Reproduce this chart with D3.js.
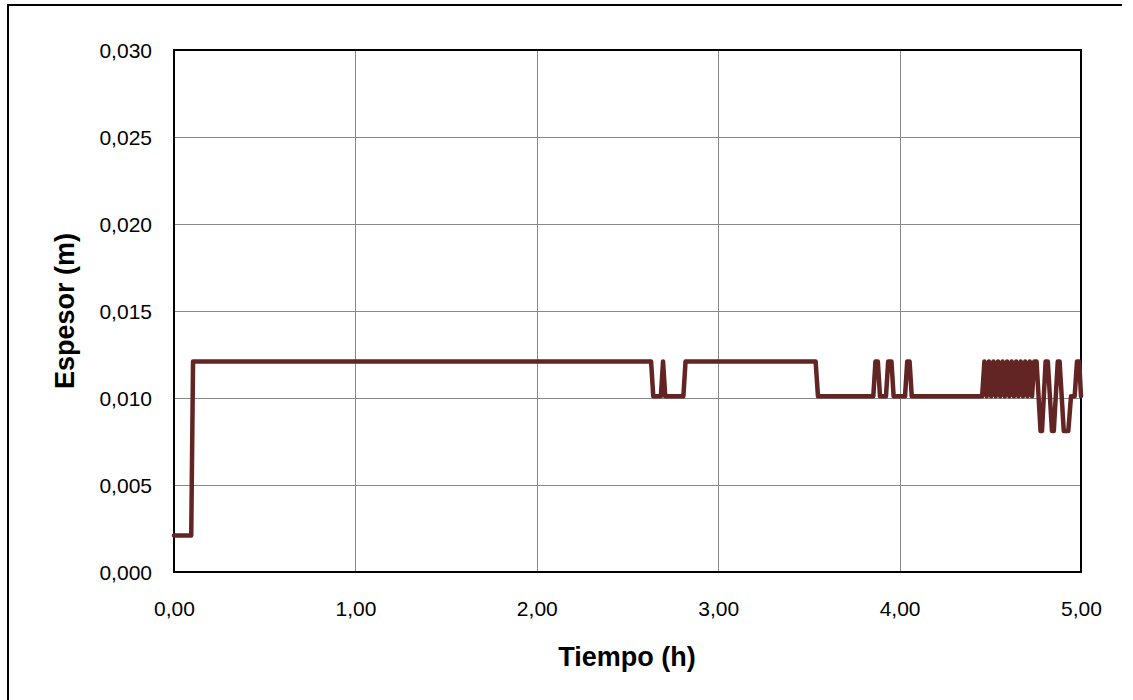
<!DOCTYPE html>
<html>
<head>
<meta charset="utf-8">
<script src="https://cdn.jsdelivr.net/npm/d3@7/dist/d3.min.js"></script>
<style>
  html, body { margin: 0; padding: 0; background: #fff; }
  svg { display: block; font-family: "Liberation Sans", Arial, sans-serif; }
</style>
</head>
<body>
<svg id="chart" width="1133" height="700"></svg>
<script>
// Data: time in hours, thickness in metres
const times = [
  0.000, 0.095, 0.105,
  2.630, 2.642, 2.684, 2.696, 2.708, 2.808, 2.820,
  3.537, 3.550,
  3.855, 3.867, 3.880, 3.892,
  3.925, 3.937, 3.955, 3.967,
  4.030, 4.042, 4.055, 4.067,
  4.455, 4.4675, 4.480, 4.4925, 4.505, 4.5175, 4.530, 4.5425, 4.555, 4.5675,
  4.580, 4.5925, 4.605, 4.6175, 4.630, 4.6425, 4.655, 4.6675, 4.680, 4.6925,
  4.705, 4.7175, 4.730, 4.7425, 4.755,
  4.777, 4.785, 4.805, 4.817, 4.840, 4.850, 4.872, 4.882, 4.905, 4.930,
  4.945, 4.965, 4.978, 4.990, 5.000
];
const espesor = [
  0.0021, 0.0021, 0.0121,
  0.0121, 0.0101, 0.0101, 0.0121, 0.0101, 0.0101, 0.0121,
  0.0121, 0.0101,
  0.0101, 0.0121, 0.0121, 0.0101,
  0.0101, 0.0121, 0.0121, 0.0101,
  0.0101, 0.0121, 0.0121, 0.0101,
  0.0101, 0.0121, 0.0101, 0.0121, 0.0101, 0.0121, 0.0101, 0.0121, 0.0101, 0.0121,
  0.0101, 0.0121, 0.0101, 0.0121, 0.0101, 0.0121, 0.0101, 0.0121, 0.0101, 0.0121,
  0.0101, 0.0121, 0.0101, 0.0121, 0.0121,
  0.0081, 0.0081, 0.0121, 0.0121, 0.0081, 0.0081, 0.0121, 0.0121, 0.0081, 0.0081,
  0.0101, 0.0101, 0.0121, 0.0121, 0.0101
];
const xTicks = [0, 1, 2, 3, 4, 5];
const yTicks = [0, 0.005, 0.010, 0.015, 0.020, 0.025, 0.030];
const xTitle = "Tiempo (h)";
const yTitle = "Espesor (m)";

(function () {
const data = times.map((t, i) => ({ t, v: espesor[i] }));

const svg = d3.select("#chart");
const pL = 174, pR = 1081, pT = 50, pB = 572;

const locale = d3.formatLocale({ decimal: ",", thousands: ".", grouping: [3], currency: ["", ""] });
const fx = locale.format(".2f");
const fy = locale.format(".3f");

const x = d3.scaleLinear().domain([0, 5]).range([pL, pR]);
const y = d3.scaleLinear().domain([0, 0.030]).range([pB, pT]);

// outer border (top and left visible)
svg.append("path")
  .attr("d", `M8,702 L8,5 L1122,5`)
  .attr("fill", "none").attr("stroke", "#000").attr("stroke-width", 2);

// gridlines
svg.append("g").selectAll("line").data(yTicks).join("line")
  .attr("x1", pL).attr("x2", pR)
  .attr("y1", d => Math.round(y(d)) + 0.5).attr("y2", d => Math.round(y(d)) + 0.5)
  .attr("stroke", "#888").attr("stroke-width", 1);
svg.append("g").selectAll("line").data(xTicks).join("line")
  .attr("y1", pT).attr("y2", pB)
  .attr("x1", d => Math.round(x(d)) + 0.5).attr("x2", d => Math.round(x(d)) + 0.5)
  .attr("stroke", "#888").attr("stroke-width", 1);

// axes (labels only)
const xAxis = d3.axisBottom(x).tickValues(xTicks).tickFormat(fx).tickSize(0).tickPadding(0);
const gx = svg.append("g").attr("transform", `translate(0,${pB})`).call(xAxis);
gx.select(".domain").remove();
gx.selectAll("text").attr("font-size", 21).attr("fill", "#000")
  .attr("font-family", "Liberation Sans, Arial, sans-serif").attr("dy", "0").attr("y", 44);

const yAxis = d3.axisLeft(y).tickValues(yTicks).tickFormat(fy).tickSize(0).tickPadding(0);
const gy = svg.append("g").attr("transform", `translate(${pL},0)`).call(yAxis);
gy.select(".domain").remove();
gy.selectAll("text").attr("font-size", 21).attr("fill", "#000")
  .attr("font-family", "Liberation Sans, Arial, sans-serif").attr("x", -22).attr("dy", "0.35em");

// plot frame
svg.append("rect").attr("x", pL).attr("y", pT)
  .attr("width", pR - pL).attr("height", pB - pT)
  .attr("fill", "none").attr("stroke", "#000").attr("stroke-width", 2);

// series line
const line = d3.line().x(d => x(d.t)).y(d => y(d.v));
svg.append("path").datum(data)
  .attr("d", line)
  .attr("fill", "none").attr("stroke", "#632523").attr("stroke-width", 4.5)
  .attr("stroke-linejoin", "round").attr("stroke-linecap", "round");

// titles
svg.append("text").attr("x", 627).attr("y", 666)
  .attr("text-anchor", "middle").attr("font-size", 27).attr("font-weight", "bold")
  .text(xTitle);
svg.append("text").attr("transform", `translate(74,311) rotate(-90)`)
  .attr("text-anchor", "middle").attr("font-size", 27).attr("font-weight", "bold")
  .text(yTitle);
})();
</script>
</body>
</html>
